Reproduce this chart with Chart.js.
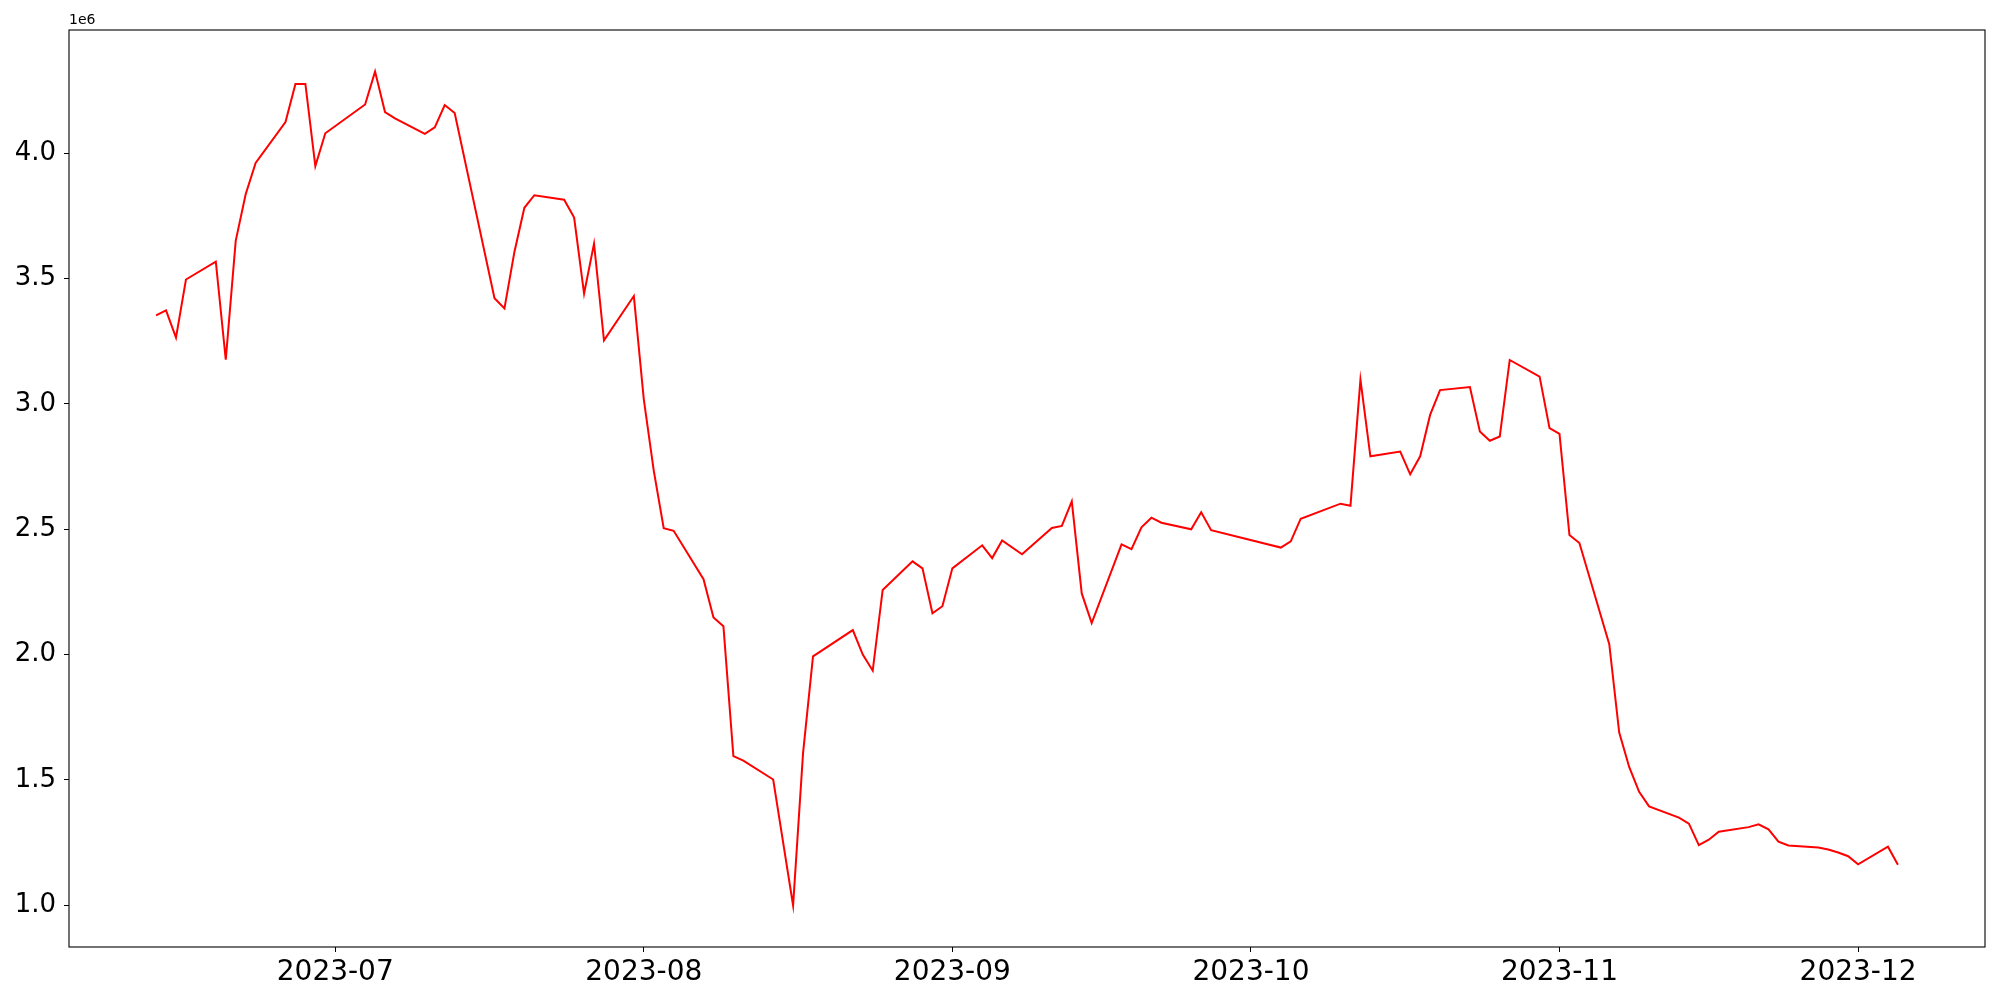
<!DOCTYPE html>
<html>
<head>
<meta charset="utf-8">
<script src="https://cdn.jsdelivr.net/npm/chart.js@4.4.0/dist/chart.umd.min.js"></script>
<style>
  html, body { margin: 0; padding: 0; background: #fff; }
  #wrap { width: 2000px; height: 1000px; }
</style>
</head>
<body>
<div id="wrap"><canvas id="lineChart" width="2000" height="1000"></canvas></div>
<script>
// values (units, axis shows 1e6)
const dates = [
  '2023-06-13', '2023-06-14', '2023-06-15', '2023-06-16', '2023-06-19', '2023-06-20', '2023-06-21',
  '2023-06-22', '2023-06-23', '2023-06-26', '2023-06-27', '2023-06-28', '2023-06-29', '2023-06-30',
  '2023-07-04', '2023-07-05', '2023-07-06', '2023-07-07', '2023-07-10', '2023-07-11', '2023-07-12',
  '2023-07-13', '2023-07-17', '2023-07-18', '2023-07-19', '2023-07-20', '2023-07-21', '2023-07-24',
  '2023-07-25', '2023-07-26', '2023-07-27', '2023-07-28', '2023-07-31', '2023-08-01', '2023-08-02',
  '2023-08-03', '2023-08-04', '2023-08-07', '2023-08-08', '2023-08-09', '2023-08-10', '2023-08-11',
  '2023-08-14', '2023-08-16', '2023-08-17', '2023-08-18', '2023-08-22', '2023-08-23', '2023-08-24',
  '2023-08-25', '2023-08-28', '2023-08-29', '2023-08-30', '2023-08-31', '2023-09-01', '2023-09-04',
  '2023-09-05', '2023-09-06', '2023-09-08', '2023-09-11', '2023-09-12', '2023-09-13', '2023-09-14',
  '2023-09-15', '2023-09-18', '2023-09-19', '2023-09-20', '2023-09-21', '2023-09-22', '2023-09-25',
  '2023-09-26', '2023-09-27', '2023-10-04', '2023-10-05', '2023-10-06', '2023-10-10', '2023-10-11',
  '2023-10-12', '2023-10-13', '2023-10-16', '2023-10-17', '2023-10-18', '2023-10-19', '2023-10-20',
  '2023-10-23', '2023-10-24', '2023-10-25', '2023-10-26', '2023-10-27', '2023-10-30', '2023-10-31',
  '2023-11-01', '2023-11-02', '2023-11-03', '2023-11-06', '2023-11-07', '2023-11-08', '2023-11-09',
  '2023-11-10', '2023-11-13', '2023-11-14', '2023-11-15', '2023-11-16', '2023-11-17', '2023-11-20',
  '2023-11-21', '2023-11-22', '2023-11-23', '2023-11-24', '2023-11-27', '2023-11-28', '2023-11-29',
  '2023-11-30', '2023-12-01', '2023-12-04', '2023-12-05'
];

const values = [
  3353000, 3373000, 3264000, 3496000, 3567000, 3176000, 3650000,
  3836000, 3961000, 4124000, 4276000, 4276000, 3948000, 4079000,
  4194000, 4325000, 4164000, 4139000, 4077000, 4103000, 4192000,
  4160000, 3421000, 3381000, 3606000, 3782000, 3832000, 3814000,
  3743000, 3440000, 3639000, 3253000, 3430000, 3018000, 2734000,
  2504000, 2494000, 2301000, 2148000, 2113000, 1595000, 1577000,
  1502000, 1000000, 1607000, 1993000, 2098000, 2000000, 1936000,
  2258000, 2372000, 2344000, 2165000, 2193000, 2344000, 2436000,
  2385000, 2455000, 2400000, 2505000, 2513000, 2611000, 2244000,
  2126000, 2440000, 2421000, 2508000, 2546000, 2526000, 2500000,
  2568000, 2496000, 2427000, 2452000, 2542000, 2602000, 2594000,
  3097000, 2791000, 2810000, 2719000, 2791000, 2956000, 3055000,
  3067000, 2890000, 2853000, 2870000, 3175000, 3109000, 2903000,
  2880000, 2477000, 2445000, 2042000, 1689000, 1552000, 1453000,
  1395000, 1350000, 1326000, 1240000, 1262000, 1294000, 1312000,
  1323000, 1303000, 1254000, 1239000, 1231000, 1223000, 1211000,
  1196000, 1164000, 1234000, 1162000
];

const monthTicks = ['2023-07', '2023-08', '2023-09', '2023-10', '2023-11', '2023-12'];
const yTicks = [1000000, 1500000, 2000000, 2500000, 3000000, 3500000, 4000000];
const xRange = ['2023-06-04T06:00:00Z', '2023-12-13T18:00:00Z'];
const yRange = [834000, 4491000];

const toTime = s => new Date(s.length === 10 ? s + 'T00:00:00Z' : s).getTime();
const points = dates.map((d, i) => ({ x: toTime(d), y: values[i] }));
const monthTimes = monthTicks.map(m => toTime(m + '-01'));

// rahmen + "1e6" wie bei matplotlib
const framePlugin = {
  id: 'frame',
  afterDraw(chart) {
    const { ctx, chartArea: a } = chart;
    ctx.save();
    ctx.strokeStyle = '#000';
    ctx.lineWidth = 1.1;
    ctx.strokeRect(a.left, a.top, a.right - a.left, a.bottom - a.top);
    ctx.fillStyle = '#000';
    ctx.font = '14px "DejaVu Sans"';
    ctx.textAlign = 'left';
    ctx.textBaseline = 'bottom';
    ctx.fillText('1e6', a.left, a.top - 3);
    ctx.restore();
  }
};

const ctx = document.getElementById('lineChart').getContext('2d');
const chart = new Chart(ctx, {
  type: 'line',
  data: {
    datasets: [{
      data: points,
      borderColor: '#ff0000',
      borderWidth: 2,
      pointRadius: 0,
      tension: 0,
      fill: false
    }]
  },
  options: {
    responsive: false,
    animation: false,
    devicePixelRatio: 1,
    layout: { padding: { top: 30, right: 15, bottom: 0, left: 0 } },
    plugins: {
      legend: { display: false },
      tooltip: { enabled: false }
    },
    scales: {
      x: {
        type: 'linear',
        min: toTime(xRange[0]),
        max: toTime(xRange[1]),
        afterBuildTicks: scale => { scale.ticks = monthTimes.map(v => ({ value: v })); },
        afterFit: scale => { scale.height = 53; },
        grid: { drawOnChartArea: false, drawTicks: true, tickLength: 5, color: '#000' },
        border: { display: false },
        ticks: {
          autoSkip: false,
          maxRotation: 0,
          padding: 4,
          color: '#000',
          font: { family: 'DejaVu Sans', size: 28 },
          callback: (v) => {
            const i = monthTimes.indexOf(v);
            return i >= 0 ? monthTicks[i] : '';
          }
        }
      },
      y: {
        type: 'linear',
        min: yRange[0],
        max: yRange[1],
        afterBuildTicks: scale => { scale.ticks = yTicks.map(v => ({ value: v })); },
        afterFit: scale => { scale.width = 69; },
        grid: { drawOnChartArea: false, drawTicks: true, tickLength: 5, color: '#000' },
        border: { display: false },
        ticks: {
          padding: 8,
          color: '#000',
          font: { family: 'DejaVu Sans', size: 26 },
          callback: v => (v / 1e6).toFixed(1)
        }
      }
    }
  },
  plugins: [framePlugin]
});
</script>
</body>
</html>
